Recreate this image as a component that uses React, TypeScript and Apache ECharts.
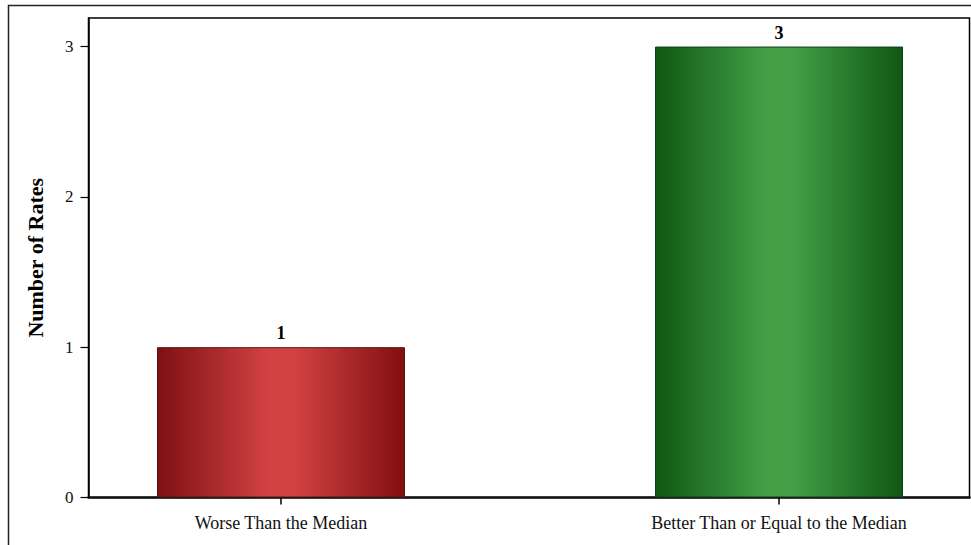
import React, { useEffect, useRef } from "react";
import * as echarts from "echarts";

const categories = ["Worse Than the Median", "Better Than or Equal to the Median"];
const values = [1, 3];
const yTicks = [0, 1, 2, 3];

const FONT = "'Liberation Serif', 'Times New Roman', serif";

export default function App() {
  const ref = useRef<HTMLDivElement>(null);
  useEffect(() => {
    if (!ref.current) return;
    const chart = echarts.init(ref.current, undefined, { renderer: "svg" });
    const gradients = [
      new echarts.graphic.LinearGradient(0, 0, 1, 0, [
        { offset: 0, color: "#7e1012" },
        { offset: 0.45, color: "#d24243" },
        { offset: 0.55, color: "#d24243" },
        { offset: 1, color: "#820f10" },
      ]),
      new echarts.graphic.LinearGradient(0, 0, 1, 0, [
        { offset: 0, color: "#0f5813" },
        { offset: 0.45, color: "#43a047" },
        { offset: 0.55, color: "#43a047" },
        { offset: 1, color: "#0f5813" },
      ]),
    ];
    const borders = ["#5a1414", "#10401a"];
    chart.setOption({
      animation: false,
      backgroundColor: "#fff",
      graphic: [
        {
          type: "rect",
          shape: { x: 8.5, y: 5.5, width: 1000, height: 600 },
          style: { fill: "none", stroke: "#222", lineWidth: 1.5 },
          silent: true,
        },
      ],
      grid: {
        left: 88.5,
        top: 18,
        right: 1.5,
        bottom: 47.5,
        show: true,
        borderColor: "#000",
        borderWidth: 1.5,
        backgroundColor: "transparent",
      },
      xAxis: {
        type: "value",
        min: -0.3865,
        max: 1.3825,
        splitLine: { show: false },
        axisLine: { show: true, onZero: false, lineStyle: { color: "#111", width: 2.5 } },
        axisTick: { show: true, customValues: [0, 1], length: 7, lineStyle: { color: "#000", width: 1.5 } },
        axisLabel: {
          customValues: [0, 1],
          formatter: (v: number) => categories[Math.round(v)] ?? "",
          fontFamily: FONT,
          fontSize: 18,
          color: "#111",
          margin: 16,
        },
      },
      yAxis: {
        type: "value",
        min: 0,
        max: 3.19,
        name: "Number of Rates",
        nameLocation: "middle",
        nameGap: 42,
        nameTextStyle: { fontFamily: FONT, fontSize: 22, fontWeight: "bold", color: "#000" },
        splitLine: { show: false },
        axisLine: { show: true, onZero: false, lineStyle: { color: "#000", width: 1.5 } },
        axisTick: { show: true, customValues: yTicks, length: 8, lineStyle: { color: "#000", width: 1.2 } },
        axisLabel: {
          customValues: yTicks,
          fontFamily: FONT,
          fontSize: 17,
          color: "#111",
          margin: 15,
        },
      },
      series: [
        {
          type: "bar",
          barWidth: 248,
          data: values.map((v, i) => ({
            value: [i, v],
            itemStyle: { color: gradients[i], borderColor: borders[i], borderWidth: 1 },
          })),
          label: {
            show: true,
            position: "top",
            distance: 5,
            formatter: (p: any) => String(p.value[1]),
            fontFamily: FONT,
            fontSize: 18,
            fontWeight: "bold",
            color: "#000",
          },
        },
      ],
    });
    return () => chart.dispose();
  }, []);
  return (
    <div
      ref={ref}
      style={{ position: "fixed", left: 0, top: 0, width: 971, height: 545 }}
    />
  );
}
